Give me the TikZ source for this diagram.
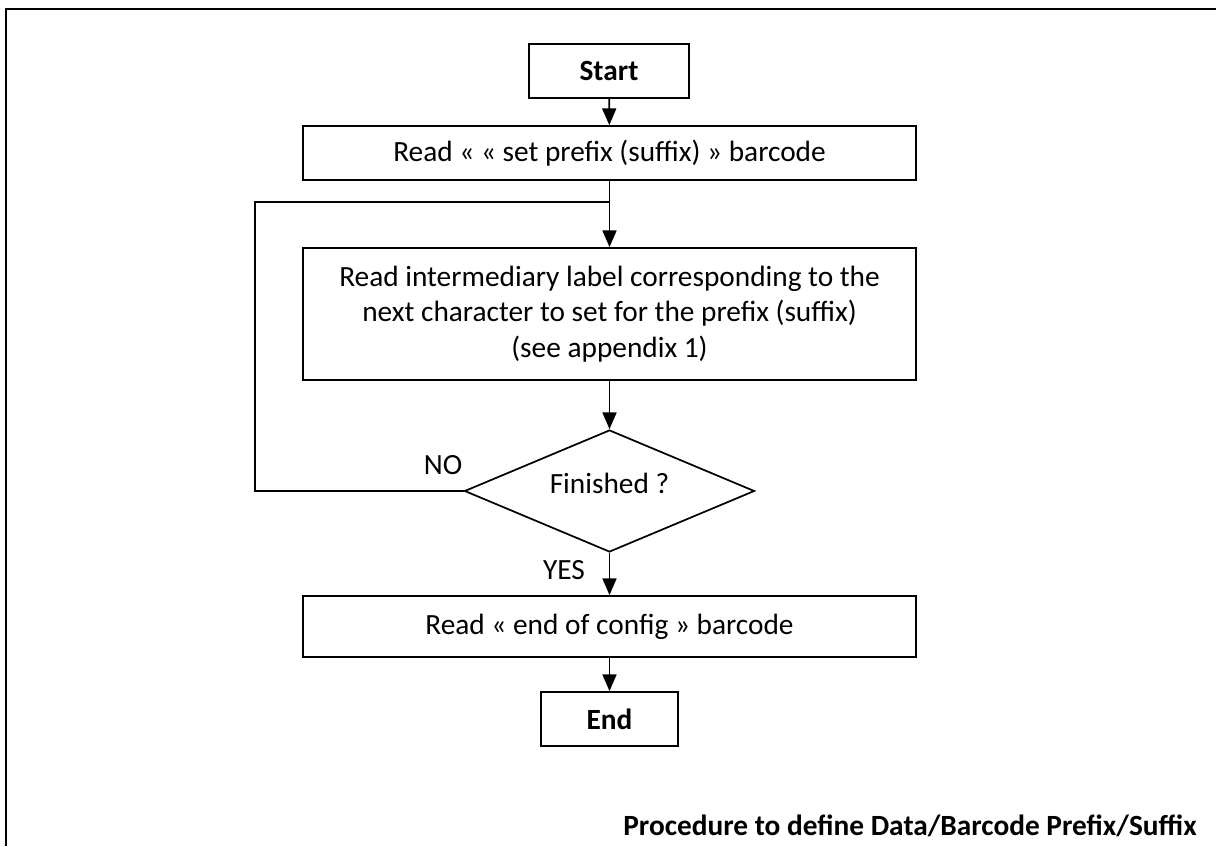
\documentclass[tikz,border=0pt]{standalone}
\usepackage{fontspec}
\setmainfont{Carlito}
\usetikzlibrary{shapes.geometric,arrows.meta}
\begin{document}
\begin{tikzpicture}[x=0.75pt,y=-0.75pt,
  box/.style={draw,line width=1.4pt,inner sep=0pt,align=center,font=\fontsize{22}{26.5}\selectfont},
  term/.style={box,font=\fontsize{22}{26.5}\selectfont\bfseries},
  dec/.style={draw,line width=1.3pt,diamond,inner sep=0pt,minimum width=217.5pt,minimum height=91.5pt,font=\fontsize{22}{26.5}\selectfont},
  conn/.style={line width=1.3pt},
  arr/.style={conn,-{Triangle[length=12.5pt,width=10.5pt]}},
  lbl/.style={inner sep=0pt,font=\fontsize{22}{26.5}\selectfont}]
\useasboundingbox (0,0) rectangle (1216,846);
\draw[line width=2.2pt] (6,846) -- (6,9) -- (1216,9);
\node[term,minimum width=120pt,minimum height=40.5pt] (start) at (609,71) {Start};
\node[box,minimum width=459.75pt,minimum height=40.5pt] (setp) at (609.5,153) {Read « « set prefix (suffix) » barcode};
\node[box,minimum width=459.75pt,minimum height=99pt] (inter) at (609.5,314) {Read intermediary label corresponding to the\\next character to set for the prefix (suffix)\\(see appendix 1)};
\node[dec] (fin) at (609.5,491) {\raisebox{-1.5pt}[0pt][0pt]{Finished ?}};
\node[box,minimum width=459.75pt,minimum height=45.75pt] (endc) at (609.5,626.5) {Read « end of config » barcode};
\node[term,minimum width=102.75pt,minimum height=40.5pt] (endn) at (609.5,719) {End};
\node[lbl] (no) at (443,465) {NO};
\node[lbl] (yes) at (564,570) {YES};
\node[inner sep=0pt,anchor=base east,font=\fontsize{22}{27}\selectfont\bfseries] (cap) at (1197,835) {Procedure to define Data/Barcode Prefix/Suffix};
\coordinate (lj) at (609.5,202);
\coordinate (lb) at (255,491);
\coordinate (lt) at (255,202);
\draw[arr] (start) -- (setp);
\draw[arr] (setp) -- (inter);
\draw[conn] (fin.west) -- (lb) -- (lt) -- (lj);
\draw[arr] (inter) -- (fin);
\draw[arr] (fin) -- (endc);
\draw[arr] (endc) -- (endn);
\end{tikzpicture}
\end{document}
